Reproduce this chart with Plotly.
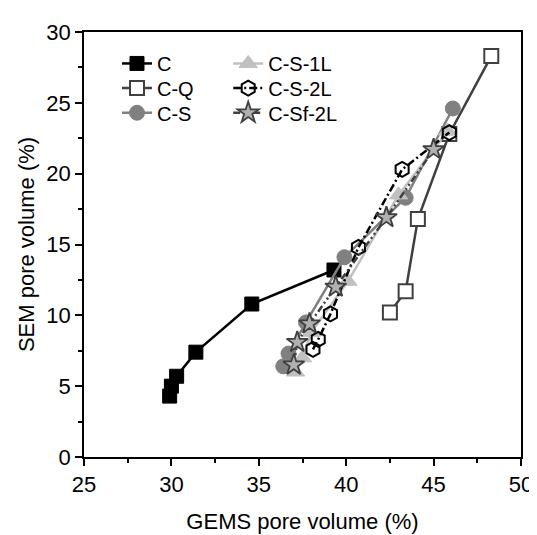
import plotly.graph_objects as go

# GEMS pore volume (x) and SEM pore volume (y), in %
c_x = [29.9, 30.0, 30.3, 31.4, 34.6, 39.3]
c_y = [4.3, 5.0, 5.7, 7.4, 10.8, 13.2]

cq_x = [42.5, 43.4, 44.1, 45.9, 48.3]
cq_y = [10.2, 11.7, 16.8, 22.8, 28.3]

cs_x = [36.4, 36.7, 37.7, 39.9, 43.4, 46.1]
cs_y = [6.4, 7.3, 9.5, 14.1, 18.3, 24.6]

cs1l_x = [37.1, 37.5, 38.0, 40.1, 43.0, 45.8]
cs1l_y = [6.0, 7.0, 8.8, 12.4, 18.5, 23.0]

cs2l_x = [38.1, 38.4, 39.1, 40.7, 43.2, 45.9]
cs2l_y = [7.6, 8.3, 10.1, 14.8, 20.3, 22.9]

csf2l_x = [37.0, 37.2, 37.9, 39.4, 42.3, 45.0]
csf2l_y = [6.5, 8.1, 9.4, 12.0, 16.9, 21.7]

x_ticks = [25, 30, 35, 40, 45, 50]
y_ticks = [0, 5, 10, 15, 20, 25, 30]

fig = go.Figure()

fig.add_trace(go.Scatter(x=c_x, y=c_y, name="C", mode="lines+markers",
    line=dict(color="black", width=2.5),
    marker=dict(symbol="square", size=14, color="black", line=dict(color="black", width=1)),
    legend="legend"))
fig.add_trace(go.Scatter(x=cq_x, y=cq_y, name="C-Q", mode="lines+markers",
    line=dict(color="#404040", width=2.5),
    marker=dict(symbol="square", size=14, color="white", line=dict(color="#404040", width=2)),
    legend="legend2"))
fig.add_trace(go.Scatter(x=cs_x, y=cs_y, name="C-S", mode="lines+markers",
    line=dict(color="#808080", width=2.5),
    marker=dict(symbol="circle", size=15, color="#808080", line=dict(color="#808080", width=1)),
    legend="legend3"))
fig.add_trace(go.Scatter(x=cs1l_x, y=cs1l_y, name="C-S-1L", mode="lines+markers",
    line=dict(color="#c0c0c0", width=2.5),
    marker=dict(symbol="triangle-up", size=16, color="#c0c0c0", line=dict(color="#c0c0c0", width=1)),
    legend="legend4"))
fig.add_trace(go.Scatter(x=cs2l_x, y=cs2l_y, name="C-S-2L", mode="lines+markers",
    line=dict(color="black", width=2.5, dash="8px,3px,2px,3px"),
    marker=dict(symbol="hexagon-open", size=15, color="black", line=dict(color="black", width=2)),
    legend="legend5"))
fig.add_trace(go.Scatter(x=csf2l_x, y=csf2l_y, name="C-Sf-2L", mode="lines+markers",
    line=dict(color="#404040", width=2.5, dash="7px,3px,2px,3px,2px,3px"),
    marker=dict(symbol="star", size=16, color="#b0b0b0", line=dict(color="#404040", width=1.8)),
    legend="legend6"))

font_family = "Liberation Sans, Arial, sans-serif"

axis_common = dict(
    showline=True, linecolor="black", linewidth=1.5, mirror=True,
    ticks="outside", ticklen=7, tickwidth=1.5, tickcolor="black",
    showgrid=False, zeroline=False,
    tickfont=dict(family=font_family, size=22, color="black"),
)

fig.update_xaxes(range=[25, 50], tickvals=x_ticks, ticktext=[str(v) for v in x_ticks],
    title=dict(text="GEMS pore volume (%)", font=dict(family=font_family, size=22, color="black"), standoff=17),
    minor=dict(ticks="outside", ticklen=4, tickwidth=1.5, tickcolor="black", dtick=2.5, tick0=25),
    **axis_common)
fig.update_yaxes(range=[0, 30], tickvals=y_ticks, ticktext=[str(v) for v in y_ticks],
    title=dict(text="SEM pore volume (%)", font=dict(family=font_family, size=22, color="black"), standoff=6),
    minor=dict(ticks="outside", ticklen=4, tickwidth=1.5, tickcolor="black", dtick=2.5, tick0=0),
    **axis_common)

def leg(x, y):
    return dict(
        x=x, y=y, xanchor="left", yanchor="middle",
        font=dict(family=font_family, size=20, color="black"),
        bgcolor="rgba(0,0,0,0)", borderwidth=0, visible=True,
    )

col1, col2 = 0.0755, 0.33
row1, row2, row3 = 0.926, 0.868, 0.810

fig.update_layout(
    width=537, height=535,
    margin=dict(l=76, r=24, t=13, b=86),
    paper_bgcolor="white", plot_bgcolor="white",
    font=dict(family=font_family, size=22, color="black"),
    showlegend=True,
    legend=leg(col1, row1),
    legend2=leg(col1, row2),
    legend3=leg(col1, row3),
    legend4=leg(col2, row1),
    legend5=leg(col2, row2),
    legend6=leg(col2, row3),
)

fig.write_html("out.html")
